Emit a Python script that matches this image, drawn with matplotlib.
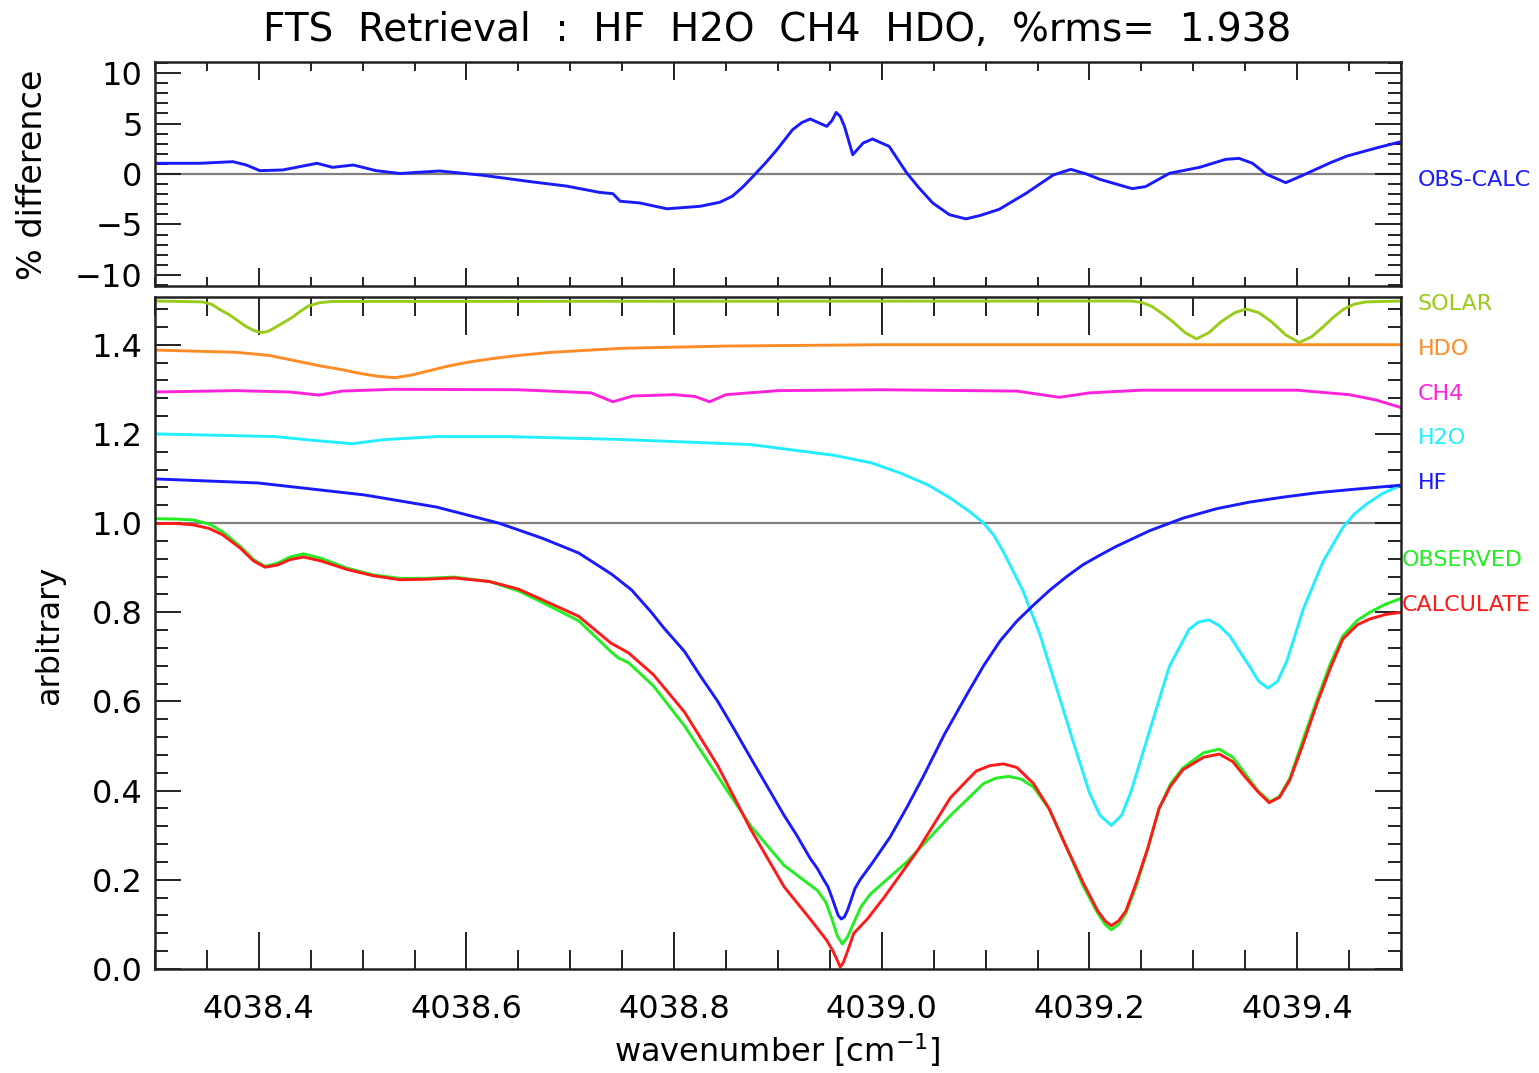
import numpy as np
import matplotlib
matplotlib.use('Agg')
import matplotlib.pyplot as plt
from matplotlib.ticker import MultipleLocator, FormatStrFormatter

'''
    FTS retrieval plot: residual on top, spectra (offset) below
'''

# ---- residual (OBS-CALC, %) ----
wn_resid = [4038.300, 4038.343, 4038.375, 4038.388, 4038.401, 4038.423, 4038.456, 4038.471,
            4038.491, 4038.513, 4038.536, 4038.574, 4038.616, 4038.664, 4038.696, 4038.728,
            4038.741, 4038.748, 4038.767, 4038.793, 4038.825, 4038.844, 4038.856, 4038.866,
            4038.876, 4038.888, 4038.899, 4038.914, 4038.923, 4038.931, 4038.947, 4038.952,
            4038.956, 4038.960, 4038.964, 4038.972, 4038.982, 4038.991, 4039.007, 4039.024,
            4039.036, 4039.049, 4039.065, 4039.081, 4039.095, 4039.113, 4039.139, 4039.165,
            4039.182, 4039.197, 4039.210, 4039.241, 4039.254, 4039.277, 4039.306, 4039.331,
            4039.344, 4039.357, 4039.370, 4039.389, 4039.406, 4039.432, 4039.448, 4039.477,
            4039.500]
resid = [1.06, 1.06, 1.22, 0.89, 0.33, 0.40, 1.06, 0.66,
         0.89, 0.33, 0.05, 0.30, -0.13, -0.79, -1.19, -1.82,
         -1.95, -2.70, -2.87, -3.45, -3.20, -2.80, -2.20, -1.30,
         -0.23, 1.10, 2.41, 4.39, 5.10, 5.45, 4.72, 5.30,
         6.10, 5.70, 4.72, 1.91, 3.07, 3.47, 2.74, 0.10,
         -1.40, -2.87, -4.03, -4.45, -4.10, -3.50, -1.91, -0.10,
         0.46, 0.00, -0.53, -1.45, -1.25, 0.07, 0.66, 1.45,
         1.55, 1.06, 0.00, -0.86, -0.10, 1.12, 1.78, 2.60,
         3.20]

# ---- offset components ----
wn_solar = [4038.300, 4038.346, 4038.355, 4038.363, 4038.371, 4038.379, 4038.387, 4038.395,
            4038.402, 4038.409, 4038.416, 4038.424, 4038.432, 4038.440, 4038.448, 4038.458,
            4038.470, 4039.240, 4039.250, 4039.260, 4039.270, 4039.280, 4039.292, 4039.303,
            4039.315, 4039.327, 4039.340, 4039.351, 4039.363, 4039.375, 4039.389, 4039.402,
            4039.414, 4039.425, 4039.435, 4039.445, 4039.455, 4039.466, 4039.500]
solar = [1.498, 1.496, 1.490, 1.478, 1.468, 1.455, 1.442, 1.432,
         1.427, 1.430, 1.439, 1.450, 1.461, 1.475, 1.487, 1.494,
         1.497, 1.498, 1.495, 1.486, 1.470, 1.452, 1.427, 1.413,
         1.427, 1.452, 1.472, 1.480, 1.472, 1.452, 1.422, 1.405,
         1.418, 1.440, 1.462, 1.480, 1.491, 1.496, 1.498]

wn_hdo = [4038.300, 4038.378, 4038.410, 4038.458, 4038.480, 4038.499, 4038.515, 4038.531,
          4038.547, 4038.563, 4038.582, 4038.602, 4038.625, 4038.650, 4038.682, 4038.750,
          4038.850, 4039.000, 4039.500]
hdo = [1.388, 1.383, 1.376, 1.353, 1.344, 1.335, 1.329, 1.326,
       1.332, 1.341, 1.352, 1.361, 1.369, 1.376, 1.383, 1.392,
       1.397, 1.400, 1.400]

wn_ch4 = [4038.300, 4038.378, 4038.430, 4038.458, 4038.480, 4038.530, 4038.650, 4038.720,
          4038.741, 4038.760, 4038.800, 4038.820, 4038.834, 4038.850, 4038.900, 4039.000,
          4039.130, 4039.171, 4039.200, 4039.250, 4039.400, 4039.450, 4039.476, 4039.500]
ch4 = [1.294, 1.297, 1.294, 1.287, 1.296, 1.300, 1.299, 1.292,
       1.272, 1.285, 1.288, 1.284, 1.272, 1.288, 1.297, 1.299,
       1.296, 1.282, 1.292, 1.298, 1.298, 1.288, 1.276, 1.259]

wn_h2o = [4038.300, 4038.416, 4038.450, 4038.490, 4038.520, 4038.571, 4038.639, 4038.742,
          4038.831, 4038.874, 4038.954, 4038.990, 4039.018, 4039.045, 4039.066, 4039.085,
          4039.098, 4039.108, 4039.117, 4039.136, 4039.152, 4039.168, 4039.184, 4039.200,
          4039.210, 4039.221, 4039.231, 4039.240, 4039.258, 4039.277, 4039.296, 4039.305,
          4039.315, 4039.325, 4039.335, 4039.354, 4039.363, 4039.372, 4039.381, 4039.390,
          4039.406, 4039.425, 4039.444, 4039.455, 4039.467, 4039.482, 4039.500]
h2o = [1.200, 1.194, 1.186, 1.178, 1.187, 1.194, 1.194, 1.188,
       1.180, 1.176, 1.152, 1.135, 1.112, 1.085, 1.056, 1.025,
       1.000, 0.972, 0.936, 0.848, 0.752, 0.632, 0.512, 0.395,
       0.345, 0.322, 0.345, 0.398, 0.535, 0.679, 0.762, 0.778,
       0.783, 0.770, 0.747, 0.679, 0.645, 0.630, 0.645, 0.690,
       0.808, 0.914, 0.990, 1.020, 1.043, 1.066, 1.085]

wn_hf = [4038.300, 4038.399, 4038.502, 4038.571, 4038.631, 4038.673, 4038.708, 4038.740,
         4038.759, 4038.778, 4038.790, 4038.810, 4038.825, 4038.842, 4038.858, 4038.874,
         4038.890, 4038.906, 4038.918, 4038.931, 4038.938, 4038.944, 4038.948, 4038.952,
         4038.955, 4038.958, 4038.961, 4038.964, 4038.967, 4038.970, 4038.974, 4038.979,
         4038.990, 4039.008, 4039.024, 4039.040, 4039.060, 4039.082, 4039.098, 4039.114,
         4039.130, 4039.146, 4039.162, 4039.178, 4039.194, 4039.210, 4039.226, 4039.258,
         4039.290, 4039.322, 4039.354, 4039.386, 4039.419, 4039.451, 4039.500]
hf = [1.099, 1.090, 1.063, 1.036, 1.000, 0.966, 0.933, 0.885,
      0.850, 0.800, 0.765, 0.712, 0.658, 0.600, 0.537, 0.472,
      0.408, 0.344, 0.300, 0.248, 0.225, 0.200, 0.185, 0.160,
      0.140, 0.120, 0.112, 0.117, 0.132, 0.152, 0.180, 0.200,
      0.235, 0.296, 0.362, 0.432, 0.525, 0.616, 0.680, 0.736,
      0.780, 0.816, 0.850, 0.880, 0.907, 0.928, 0.948, 0.983,
      1.011, 1.032, 1.047, 1.058, 1.068, 1.075, 1.085]

# ---- observed / calculated ----
wn_obs = [4038.300, 4038.320, 4038.337, 4038.352, 4038.365, 4038.382, 4038.395, 4038.406,
          4038.418, 4038.430, 4038.443, 4038.460, 4038.485, 4038.510, 4038.536, 4038.560,
          4038.588, 4038.622, 4038.650, 4038.673, 4038.708, 4038.739, 4038.746, 4038.756,
          4038.780, 4038.810, 4038.842, 4038.874, 4038.906, 4038.938, 4038.946, 4038.952,
          4038.957, 4038.962, 4038.967, 4038.973, 4038.980, 4038.989, 4039.024, 4039.066,
          4039.098, 4039.110, 4039.122, 4039.134, 4039.146, 4039.161, 4039.178, 4039.194,
          4039.208, 4039.215, 4039.221, 4039.228, 4039.235, 4039.245, 4039.256, 4039.267,
          4039.278, 4039.290, 4039.310, 4039.325, 4039.338, 4039.348, 4039.362, 4039.374,
          4039.383, 4039.393, 4039.405, 4039.419, 4039.432, 4039.444, 4039.458, 4039.470,
          4039.485, 4039.500]
obs = [1.010, 1.009, 1.007, 0.998, 0.981, 0.948, 0.918, 0.903,
       0.910, 0.924, 0.931, 0.921, 0.899, 0.884, 0.876, 0.876,
       0.879, 0.869, 0.848, 0.822, 0.781, 0.712, 0.698, 0.687,
       0.635, 0.545, 0.432, 0.320, 0.232, 0.176, 0.150, 0.112,
       0.075, 0.056, 0.072, 0.104, 0.140, 0.168, 0.240, 0.344,
       0.416, 0.428, 0.432, 0.426, 0.408, 0.360, 0.272, 0.186,
       0.125, 0.100, 0.088, 0.100, 0.125, 0.186, 0.268, 0.360,
       0.415, 0.451, 0.485, 0.493, 0.475, 0.444, 0.400, 0.375,
       0.387, 0.428, 0.510, 0.603, 0.685, 0.747, 0.782, 0.800,
       0.818, 0.831]

wn_calc = [4038.300, 4038.320, 4038.337, 4038.352, 4038.365, 4038.382, 4038.395, 4038.406,
           4038.418, 4038.430, 4038.443, 4038.460, 4038.485, 4038.510, 4038.536, 4038.560,
           4038.588, 4038.622, 4038.650, 4038.673, 4038.708, 4038.739, 4038.756, 4038.780,
           4038.810, 4038.842, 4038.874, 4038.906, 4038.931, 4038.947, 4038.953, 4038.957,
           4038.960, 4038.963, 4038.967, 4038.973, 4038.986, 4039.002, 4039.034, 4039.066,
           4039.080, 4039.091, 4039.104, 4039.117, 4039.130, 4039.146, 4039.161, 4039.178,
           4039.194, 4039.208, 4039.215, 4039.221, 4039.228, 4039.235, 4039.245, 4039.256,
           4039.267, 4039.278, 4039.290, 4039.310, 4039.325, 4039.338, 4039.348, 4039.362,
           4039.373, 4039.383, 4039.393, 4039.405, 4039.419, 4039.432, 4039.444, 4039.458,
           4039.470, 4039.485, 4039.500]
calc = [0.999, 0.999, 0.996, 0.988, 0.974, 0.944, 0.915, 0.901,
        0.906, 0.918, 0.924, 0.915, 0.896, 0.882, 0.873, 0.874,
        0.877, 0.869, 0.852, 0.828, 0.791, 0.731, 0.709, 0.660,
        0.576, 0.456, 0.312, 0.184, 0.112, 0.064, 0.040, 0.020,
        0.004, 0.015, 0.040, 0.080, 0.112, 0.160, 0.264, 0.384,
        0.418, 0.444, 0.456, 0.460, 0.452, 0.416, 0.360, 0.272,
        0.193, 0.130, 0.108, 0.097, 0.108, 0.130, 0.193, 0.270,
        0.360, 0.410, 0.447, 0.475, 0.482, 0.465, 0.436, 0.398,
        0.373, 0.385, 0.424, 0.500, 0.595, 0.675, 0.740, 0.772,
        0.785, 0.795, 0.800]

# right-hand labels
comp_names = ['SOLAR', 'HDO', 'CH4', 'H2O', 'HF']
comp_label_y = [1.492, 1.391, 1.290, 1.191, 1.090]
spec_names = ['OBSERVED', 'CALCULATE']
spec_label_y = [0.917, 0.816]

c_solar = '#99cc1a'
c_hdo = '#ff8c26'
c_ch4 = '#ff22dd'
c_h2o = '#22eeff'
c_hf = '#1a1aff'
c_obs = '#22ee22'
c_calc = '#ff1a1a'
comp_colors = [c_solar, c_hdo, c_ch4, c_h2o, c_hf]
spec_colors = [c_obs, c_calc]

plt.rcParams['font.family'] = ['DejaVu Sans']
W, H = 1539, 1073
fig = plt.figure(figsize=(W / 100, H / 100), dpi=100)

ax1 = fig.add_axes([155 / W, 1 - 286 / H, 1246 / W, 224 / H])
ax2 = fig.add_axes([155 / W, 1 - 969 / H, 1246 / W, 672 / H])

lw = 2.1
# top panel
ax1.axhline(0, color='#808080', lw=1.6, zorder=1)
ax1.plot(wn_resid, resid, color=c_hf, lw=lw, zorder=2)
ax1.set_xlim(4038.3, 4039.5)
ax1.set_ylim(-11.1, 11.1)
ax1.yaxis.set_major_locator(MultipleLocator(5))
ax1.yaxis.set_minor_locator(MultipleLocator(1))
ax1.xaxis.set_major_locator(MultipleLocator(0.2))
ax1.xaxis.set_minor_locator(MultipleLocator(0.05))
ax1.set_xticklabels([])
ax1.tick_params(axis='x', which='major', length=13, width=1.4, direction='in', top=True, bottom=True)
ax1.tick_params(axis='x', which='minor', length=6.5, width=1.4, direction='in', top=True, bottom=True)
ax1.tick_params(axis='y', which='major', length=19, width=1.4, direction='in', left=True, right=True,
                labelsize=23, pad=9)
ax1.tick_params(axis='y', which='minor', length=9.5, width=1.4, direction='in', left=True, right=True)
ax1.text(4039.516, -0.64, 'OBS-CALC', color=c_hf, fontsize=16, va='center', ha='left', clip_on=False)

# bottom panel
ax2.axhline(1.0, color='#808080', lw=1.6, zorder=1)
ax2.plot(wn_solar, solar, color=c_solar, lw=lw)
ax2.plot(wn_hdo, hdo, color=c_hdo, lw=lw)
ax2.plot(wn_ch4, ch4, color=c_ch4, lw=lw)
ax2.plot(wn_h2o, h2o, color=c_h2o, lw=lw)
ax2.plot(wn_hf, hf, color=c_hf, lw=lw)
ax2.plot(wn_obs, obs, color=c_obs, lw=lw)
ax2.plot(wn_calc, calc, color=c_calc, lw=lw)
ax2.set_xlim(4038.3, 4039.5)
ax2.set_ylim(0.0, 1.507)
ax2.xaxis.set_major_locator(MultipleLocator(0.2))
ax2.xaxis.set_minor_locator(MultipleLocator(0.05))
ax2.yaxis.set_major_locator(MultipleLocator(0.2))
ax2.yaxis.set_minor_locator(MultipleLocator(0.04))
ax2.xaxis.set_major_formatter(FormatStrFormatter('%.1f'))
ax2.yaxis.set_major_formatter(FormatStrFormatter('%.1f'))
ax2.tick_params(axis='x', which='major', length=27, width=1.4, direction='in', top=True, bottom=True,
                labelsize=23, pad=18)
ax2.tick_params(axis='x', which='minor', length=13.5, width=1.4, direction='in', top=True, bottom=True)
ax2.tick_params(axis='y', which='major', length=19, width=1.4, direction='in', left=True, right=True,
                labelsize=23, pad=9)
ax2.tick_params(axis='y', which='minor', length=9.5, width=1.4, direction='in', left=True, right=True)

for name, yy, col in zip(comp_names, comp_label_y, comp_colors):
    ax2.text(4039.516, yy, name, color=col, fontsize=16, va='center', ha='left', clip_on=False)
for name, yy, col in zip(spec_names, spec_label_y, spec_colors):
    ax2.text(4039.501, yy, name, color=col, fontsize=16, va='center', ha='left', clip_on=False)

for ax in (ax1, ax2):
    for sp in ax.spines.values():
        sp.set_linewidth(1.8)
        sp.set_color('#222222')
    ax.tick_params(which='both', color='#222222')

fig.text(777 / W, 1 - 30 / H, 'FTS  Retrieval  :  HF  H2O  CH4  HDO,  %rms=  1.938',
         ha='center', va='center', fontsize=28)
fig.text(33 / W, 1 - 175 / H, '% difference', rotation=90, ha='center', va='center', fontsize=24)
fig.text(50 / W, 1 - 635 / H, 'arbitrary', rotation=90, ha='center', va='center', fontsize=23)
fig.text(777 / W, 1 - 1050 / H, r'wavenumber [cm$^{-1}$]', ha='center', va='center', fontsize=23)

fig.savefig('out.png', dpi=100)
